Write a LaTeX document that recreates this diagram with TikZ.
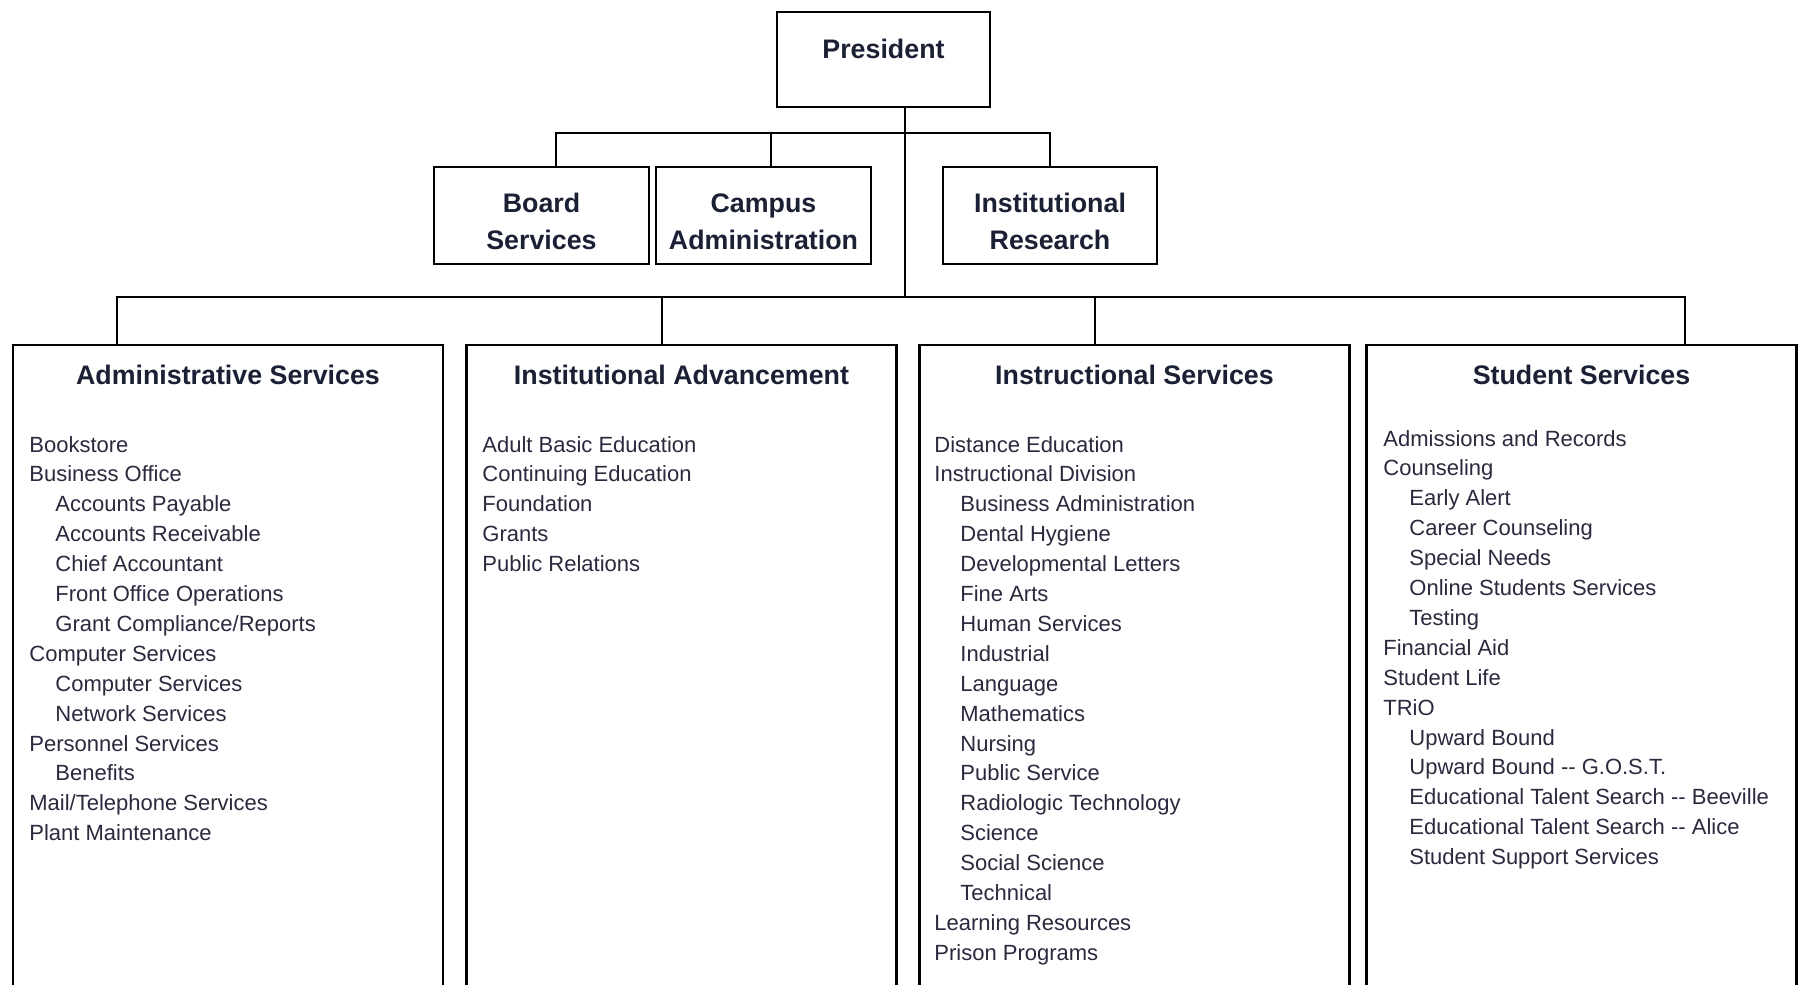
\documentclass[tikz,border=0pt]{standalone}
\usepackage{fontspec}
\setmainfont{Liberation Sans}
\definecolor{itemcol}{HTML}{2A2A3E}
\definecolor{titlecol}{HTML}{1C2034}
\newcommand{\subitm}{\hspace*{13pt}}
\tikzset{
  unitbox/.style={draw=black, line width=1.45pt, inner sep=0pt, outer sep=0pt, fill=white},
  conn/.style={draw=black, line width=1.45pt, line cap=rect},
  ttl/.style={font=\fontsize{13.4}{16}\selectfont\bfseries, text=titlecol, inner sep=0pt, anchor=base},
  itm/.style={font=\fontsize{11}{13}\selectfont, text=itemcol, inner sep=0pt, anchor=base west},
}
\begin{document}
\begin{tikzpicture}[x=0.5pt, y=-0.5pt]
\clip (0,0) rectangle (1801,985);
\fill[white] (0,0) rectangle (1801,985);

% junction coordinates
\coordinate (j1) at (905,133);
\coordinate (j2) at (905,297);
\coordinate (d1) at (117,297);
\coordinate (d2) at (662,297);
\coordinate (d3) at (1095,297);
\coordinate (d4) at (1685,297);

% boxes
\node[unitbox, minimum width=106.5pt, minimum height=47.5pt] (pres) at (883.5,59.5) {};
\node[unitbox, minimum width=107.5pt, minimum height=48.5pt] (board) at (541.5,215.5) {};
\node[unitbox, minimum width=107.5pt, minimum height=48.5pt] (camp) at (763.5,215.5) {};
\node[unitbox, minimum width=107pt, minimum height=48.5pt] (ir) at (1050,215.5) {};

\node[unitbox, minimum width=215pt, minimum height=322.5pt] (adm) at (228,667.5) {};
\node[unitbox, minimum width=215pt, minimum height=322.5pt] (adv) at (681.5,667.5) {};
\node[unitbox, minimum width=215pt, minimum height=322.5pt] (ins) at (1134.5,667.5) {};
\node[unitbox, minimum width=215pt, minimum height=322.5pt] (stu) at (1581.5,667.5) {};

% connectors
\draw[conn] (pres.south -| j1) -- (j2);
\draw[conn] ([xshift=7.25pt]board.north) |- (j1) -| (ir.north);
\draw[conn] ([xshift=3.75pt]camp.north) -- ([xshift=3.75pt]camp.north |- j1);
\draw[conn] (adm.north -| d1) -- (d1) -- (d4) -- (stu.north -| d4);
\draw[conn] (d2) -- (adv.north -| d2);
\draw[conn] (d3) -- (ins.north -| d3);

% top texts
\node[ttl] (pres-t) at (883.5,58) {President};
\node[ttl] (board-t1) at (541.5,212) {Board};
\node[ttl] (board-t2) at (541.5,249) {Services};
\node[ttl] (camp-t1) at (763.5,212) {Campus};
\node[ttl] (camp-t2) at (763.5,249) {Administration};
\node[ttl] (ir-t1) at (1050,212) {Institutional};
\node[ttl] (ir-t2) at (1050,249) {Research};

% division titles
\node[ttl] (adm-t) at (228,384) {Administrative Services};
\node[ttl] (adv-t) at (681.5,384) {Institutional Advancement};
\node[ttl] (ins-t) at (1134.5,384) {Instructional Services};
\node[ttl] (stu-t) at (1581.5,384) {Student Services};

% items
\foreach \t [count=\i from 0] in {Bookstore, Business Office, \subitm Accounts Payable,
  \subitm Accounts Receivable, \subitm Chief Accountant, \subitm Front Office Operations,
  \subitm Grant Compliance/Reports, Computer Services, \subitm Computer Services,
  \subitm Network Services, Personnel Services, \subitm Benefits,
  Mail/Telephone Services, Plant Maintenance}
  \node[itm] (adm-\i) at (29, 452+29.9*\i) {\t};

\foreach \t [count=\i from 0] in {Adult Basic Education, Continuing Education, Foundation,
  Grants, Public Relations}
  \node[itm] (adv-\i) at (482, 452+29.9*\i) {\t};

\foreach \t [count=\i from 0] in {Distance Education, Instructional Division,
  \subitm Business Administration, \subitm Dental Hygiene, \subitm Developmental Letters,
  \subitm Fine Arts, \subitm Human Services, \subitm Industrial, \subitm Language,
  \subitm Mathematics, \subitm Nursing, \subitm Public Service,
  \subitm Radiologic Technology, \subitm Science, \subitm Social Science,
  \subitm Technical, Learning Resources, Prison Programs}
  \node[itm] (ins-\i) at (934, 452+29.9*\i) {\t};

\foreach \t [count=\i from 0] in {Admissions and Records, Counseling, \subitm Early Alert,
  \subitm Career Counseling, \subitm Special Needs, \subitm Online Students Services,
  \subitm Testing, Financial Aid, Student Life, TRiO, \subitm Upward Bound,
  \subitm Upward Bound -{}- G.O.S.T., \subitm Educational Talent Search -{}- Beeville,
  \subitm Educational Talent Search -{}- Alice, \subitm Student Support Services}
  \node[itm] (stu-\i) at (1383, 446+29.9*\i) {\t};
\end{tikzpicture}
\end{document}
